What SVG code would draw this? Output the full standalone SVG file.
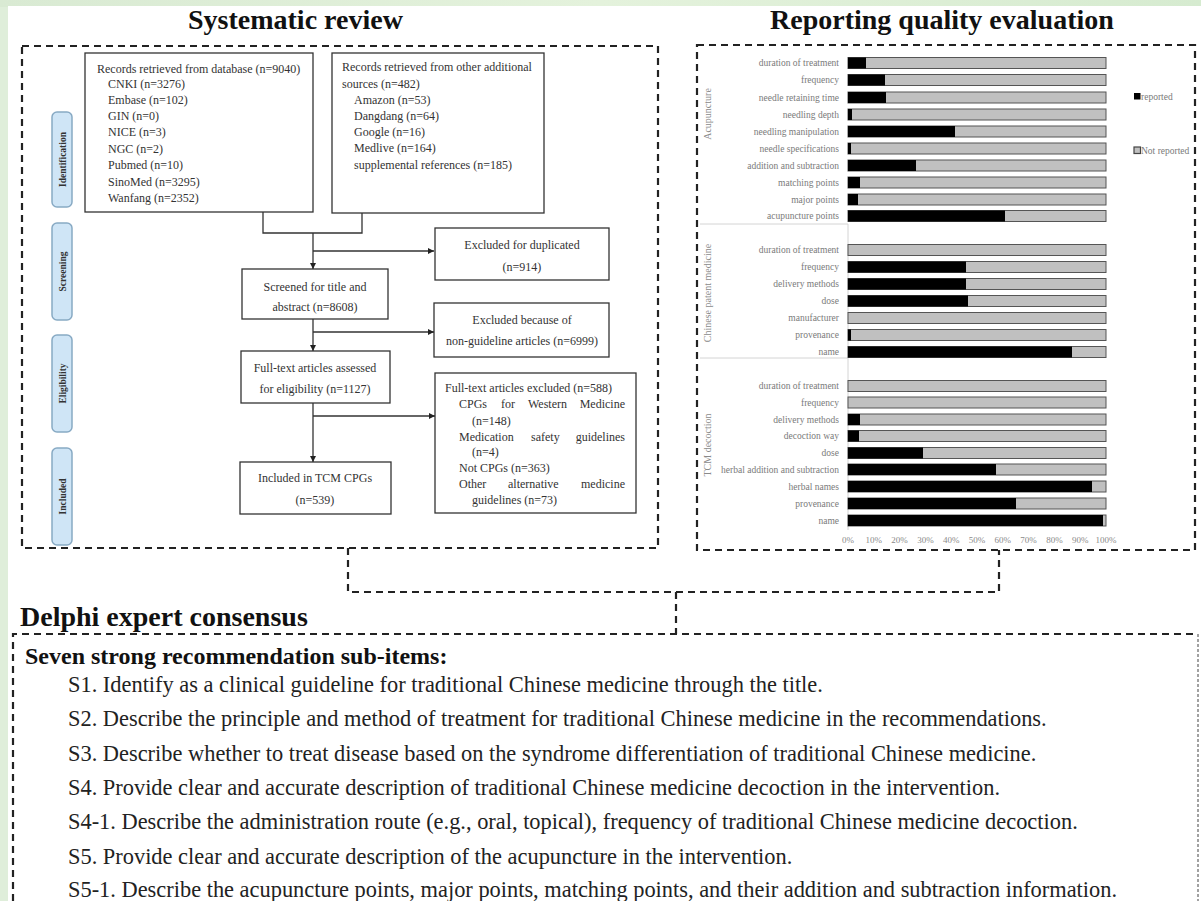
<svg xmlns="http://www.w3.org/2000/svg" width="1201" height="901" viewBox="0 0 1201 901">
<defs>
<linearGradient id="bgTop" x1="0" y1="0" x2="1" y2="0">
<stop offset="0" stop-color="#d9ead3"/><stop offset="0.5" stop-color="#e4f2dc"/><stop offset="1" stop-color="#d6ebd0"/>
</linearGradient>
<marker id="arr" viewBox="0 0 10 10" refX="10" refY="5" markerWidth="6" markerHeight="6" orient="auto" markerUnits="userSpaceOnUse">
<path d="M0,0 L10,5 L0,10 Z" fill="#222"/>
</marker>
<style>
.title{font-family:'Liberation Serif','Times New Roman',serif;font-weight:bold;font-size:28px;fill:#111}
.dash{fill:none;stroke:#222;stroke-width:2.2;stroke-dasharray:7 5}
.box{fill:#fff;stroke:#333;stroke-width:1.3}
.ft{font-family:'Liberation Serif','Times New Roman',serif;font-size:12px;fill:#333}
.pill{fill:#cfe5f6;stroke:#88aac4;stroke-width:1.5}
.pt{font-family:'Liberation Serif','Times New Roman',serif;font-weight:bold;font-size:9.5px;fill:#333}
.line{fill:none;stroke:#333;stroke-width:1.3}
.rl{font-family:'Liberation Serif','Times New Roman',serif;font-size:9.5px;fill:#7a7a7a;text-anchor:end}
.gl{font-family:'Liberation Serif','Times New Roman',serif;font-size:10px;fill:#8a8a8a;text-anchor:middle}
.ax{font-family:'Liberation Serif','Times New Roman',serif;font-size:9px;fill:#8a8a8a;text-anchor:middle}
.bg{fill:#c0c0c0;stroke:#555;stroke-width:1}
.bk{fill:#000}
.sep{stroke:#d4d4d4;stroke-width:1;fill:none}
.h2{font-family:'Liberation Serif','Times New Roman',serif;font-weight:bold;font-size:24px;fill:#111}
.body{font-family:'Liberation Serif','Times New Roman',serif;font-size:22.4px;fill:#222}
.end{text-anchor:end}
</style>
</defs>
<rect x="0" y="0" width="1201" height="901" fill="#dfeeda"/>
<rect x="0" y="0" width="1201" height="7" fill="url(#bgTop)"/>
<rect x="8" y="6" width="1193" height="895" fill="#fff"/>

<text class="title" x="188" y="29">Systematic review</text>
<text class="title" x="770" y="29">Reporting quality evaluation</text>

<g id="frames">
<rect class="dash" x="22" y="46" width="636" height="502"/>
<rect class="dash" x="697" y="45" width="498" height="505"/>
<path class="dash" d="M13,901 V634 H1198"/>
<path d="M1198,634 V901" fill="none" stroke="#444" stroke-width="1" stroke-dasharray="3 2"/>
</g>

<g id="stage-labels">
<g id="lbl-identification"><rect class="pill" x="52" y="112" width="20" height="95" rx="5"/><text class="pt" transform="translate(65.5,159.5) rotate(-90)" text-anchor="middle">Identification</text></g>
<g id="lbl-screening"><rect class="pill" x="52" y="223" width="20" height="97" rx="5"/><text class="pt" transform="translate(65.5,271.5) rotate(-90)" text-anchor="middle">Screening</text></g>
<g id="lbl-eligibility"><rect class="pill" x="52" y="335" width="20" height="97" rx="5"/><text class="pt" transform="translate(65.5,383.5) rotate(-90)" text-anchor="middle">Eligibility</text></g>
<g id="lbl-included"><rect class="pill" x="52" y="448" width="20" height="97" rx="5"/><text class="pt" transform="translate(65.5,496.5) rotate(-90)" text-anchor="middle">Included</text></g>
</g>

<g id="node-database">
<rect class="box" x="85" y="53" width="228" height="159"/>
<text class="ft" x="97" y="73">Records retrieved from database (n=9040)</text>
<text class="ft" x="108" y="88">CNKI (n=3276)</text>
<text class="ft" x="108" y="104">Embase (n=102)</text>
<text class="ft" x="108" y="120">GIN (n=0)</text>
<text class="ft" x="108" y="136">NICE (n=3)</text>
<text class="ft" x="108" y="153">NGC (n=2)</text>
<text class="ft" x="108" y="169">Pubmed (n=10)</text>
<text class="ft" x="108" y="186">SinoMed (n=3295)</text>
<text class="ft" x="108" y="202">Wanfang (n=2352)</text>
</g>

<g id="node-other">
<rect class="box" x="332" y="53" width="212" height="160"/>
<text class="ft" x="342" y="71">Records retrieved from other additional</text>
<text class="ft" x="342" y="88">sources (n=482)</text>
<text class="ft" x="354" y="104">Amazon (n=53)</text>
<text class="ft" x="354" y="120">Dangdang (n=64)</text>
<text class="ft" x="354" y="136">Google (n=16)</text>
<text class="ft" x="354" y="152">Medlive (n=164)</text>
<text class="ft" x="354" y="169">supplemental references (n=185)</text>
</g>

<g id="node-screened">
<rect class="box" x="242" y="269" width="146" height="50"/>
<text class="ft" x="315" y="291" text-anchor="middle">Screened for title and</text>
<text class="ft" x="315" y="311" text-anchor="middle">abstract (n=8608)</text>
</g>

<g id="node-dup">
<rect class="box" x="435" y="228" width="174" height="52"/>
<text class="ft" x="522" y="249" text-anchor="middle">Excluded for duplicated</text>
<text class="ft" x="522" y="271" text-anchor="middle">(n=914)</text>
</g>

<g id="node-nonguide">
<rect class="box" x="434" y="303" width="175" height="54"/>
<text class="ft" x="522" y="324" text-anchor="middle">Excluded because of</text>
<text class="ft" x="522" y="345" text-anchor="middle">non-guideline articles (n=6999)</text>
</g>

<g id="node-fulltext">
<rect class="box" x="241" y="351" width="149" height="52"/>
<text class="ft" x="315" y="372" text-anchor="middle">Full-text articles assessed</text>
<text class="ft" x="315" y="393" text-anchor="middle">for eligibility (n=1127)</text>
</g>

<g id="node-ftexcluded">
<rect class="box" x="435" y="373" width="201" height="140"/>
<text class="ft" x="445" y="392">Full-text articles excluded (n=588)</text>
<text class="ft" y="408"><tspan x="459">CPGs</tspan><tspan x="501">for</tspan><tspan x="528">Western</tspan><tspan x="625" text-anchor="end">Medicine</tspan></text>
<text class="ft" x="472" y="425">(n=148)</text>
<text class="ft" y="441"><tspan x="459">Medication</tspan><tspan x="531">safety</tspan><tspan x="625" text-anchor="end">guidelines</tspan></text>
<text class="ft" x="472" y="456">(n=4)</text>
<text class="ft" x="459" y="472">Not CPGs (n=363)</text>
<text class="ft" y="488"><tspan x="459">Other</tspan><tspan x="508">alternative</tspan><tspan x="625" text-anchor="end">medicine</tspan></text>
<text class="ft" x="472" y="504">guidelines (n=73)</text>
</g>

<g id="node-included">
<rect class="box" x="240" y="462" width="151" height="52"/>
<text class="ft" x="315" y="482" text-anchor="middle">Included in TCM CPGs</text>
<text class="ft" x="315" y="504" text-anchor="middle">(n=539)</text>
</g>

<g id="connectors">
<path class="line" d="M263,212 V233 H362 V213"/>
<path class="line" d="M313,233 V269" marker-end="url(#arr)"/>
<path class="line" d="M313,251 H434" marker-end="url(#arr)"/>
<path class="line" d="M313,319 V351" marker-end="url(#arr)"/>
<path class="line" d="M313,332 H434" marker-end="url(#arr)"/>
<path class="line" d="M313,403 V462" marker-end="url(#arr)"/>
<path class="line" d="M313,416 H435" marker-end="url(#arr)"/>
<path class="dash" d="M348,548 V592 H999 V550"/>
<path class="dash" d="M676,592 V634"/>
</g>

<g id="chart">
<path class="sep" d="M700,224 H848 M700,358 H848 M848,224 V530"/>
<text class="gl" transform="translate(711,114) rotate(-90)">Acupuncture</text>
<text class="gl" transform="translate(711,293) rotate(-90)">Chinese patent medicine</text>
<text class="gl" transform="translate(711,445) rotate(-90)">TCM decoction</text>

<g id="acu">
<text class="rl" x="839" y="66">duration of treatment</text><rect class="bg" x="848" y="57.5" width="258" height="11"/><rect class="bk" x="848" y="57.5" width="18" height="11"/>
<text class="rl" x="839" y="83">frequency</text><rect class="bg" x="848" y="74.5" width="258" height="11"/><rect class="bk" x="848" y="74.5" width="37" height="11"/>
<text class="rl" x="839" y="100.5">needle retaining time</text><rect class="bg" x="848" y="92" width="258" height="11"/><rect class="bk" x="848" y="92" width="38" height="11"/>
<text class="rl" x="839" y="117.5">needling depth</text><rect class="bg" x="848" y="109" width="258" height="11"/><rect class="bk" x="848" y="109" width="4" height="11"/>
<text class="rl" x="839" y="134.5">needling manipulation</text><rect class="bg" x="848" y="126" width="258" height="11"/><rect class="bk" x="848" y="126" width="107" height="11"/>
<text class="rl" x="839" y="151.5">needle specifications</text><rect class="bg" x="848" y="143" width="258" height="11"/><rect class="bk" x="848" y="143" width="3" height="11"/>
<text class="rl" x="839" y="168.5">addition and subtraction</text><rect class="bg" x="848" y="160" width="258" height="11"/><rect class="bk" x="848" y="160" width="68" height="11"/>
<text class="rl" x="839" y="185.5">matching points</text><rect class="bg" x="848" y="177" width="258" height="11"/><rect class="bk" x="848" y="177" width="12" height="11"/>
<text class="rl" x="839" y="202.5">major points</text><rect class="bg" x="848" y="194" width="258" height="11"/><rect class="bk" x="848" y="194" width="10" height="11"/>
<text class="rl" x="839" y="219">acupuncture points</text><rect class="bg" x="848" y="210.5" width="258" height="11"/><rect class="bk" x="848" y="210.5" width="157" height="11"/>
</g>

<g id="cpm">
<text class="rl" x="839" y="253">duration of treatment</text><rect class="bg" x="848" y="244.5" width="258" height="11"/>
<text class="rl" x="839" y="270">frequency</text><rect class="bg" x="848" y="261.5" width="258" height="11"/><rect class="bk" x="848" y="261.5" width="118" height="11"/>
<text class="rl" x="839" y="287">delivery methods</text><rect class="bg" x="848" y="278.5" width="258" height="11"/><rect class="bk" x="848" y="278.5" width="118" height="11"/>
<text class="rl" x="839" y="304">dose</text><rect class="bg" x="848" y="295.5" width="258" height="11"/><rect class="bk" x="848" y="295.5" width="120" height="11"/>
<text class="rl" x="839" y="321">manufacturer</text><rect class="bg" x="848" y="312.5" width="258" height="11"/>
<text class="rl" x="839" y="338">provenance</text><rect class="bg" x="848" y="329.5" width="258" height="11"/><rect class="bk" x="848" y="329.5" width="3" height="11"/>
<text class="rl" x="839" y="355">name</text><rect class="bg" x="848" y="346.5" width="258" height="11"/><rect class="bk" x="848" y="346.5" width="224" height="11"/>
</g>

<g id="tcm">
<text class="rl" x="839" y="389">duration of treatment</text><rect class="bg" x="848" y="380.5" width="258" height="11"/>
<text class="rl" x="839" y="405.5">frequency</text><rect class="bg" x="848" y="397" width="258" height="11"/>
<text class="rl" x="839" y="422.5">delivery methods</text><rect class="bg" x="848" y="414" width="258" height="11"/><rect class="bk" x="848" y="414" width="12" height="11"/>
<text class="rl" x="839" y="439">decoction way</text><rect class="bg" x="848" y="430.5" width="258" height="11"/><rect class="bk" x="848" y="430.5" width="11" height="11"/>
<text class="rl" x="839" y="456">dose</text><rect class="bg" x="848" y="447.5" width="258" height="11"/><rect class="bk" x="848" y="447.5" width="75" height="11"/>
<text class="rl" x="839" y="472.5">herbal addition and subtraction</text><rect class="bg" x="848" y="464" width="258" height="11"/><rect class="bk" x="848" y="464" width="148" height="11"/>
<text class="rl" x="839" y="489.5">herbal names</text><rect class="bg" x="848" y="481" width="258" height="11"/><rect class="bk" x="848" y="481" width="244" height="11"/>
<text class="rl" x="839" y="506.5">provenance</text><rect class="bg" x="848" y="498" width="258" height="11"/><rect class="bk" x="848" y="498" width="168" height="11"/>
<text class="rl" x="839" y="523.5">name</text><rect class="bg" x="848" y="515" width="258" height="11"/><rect class="bk" x="848" y="515" width="255" height="11"/>
</g>

<g id="axis">
<text class="ax" x="848" y="543">0%</text>
<text class="ax" x="873.8" y="543">10%</text>
<text class="ax" x="899.6" y="543">20%</text>
<text class="ax" x="925.4" y="543">30%</text>
<text class="ax" x="951.2" y="543">40%</text>
<text class="ax" x="977" y="543">50%</text>
<text class="ax" x="1002.8" y="543">60%</text>
<text class="ax" x="1028.6" y="543">70%</text>
<text class="ax" x="1054.4" y="543">80%</text>
<text class="ax" x="1080.2" y="543">90%</text>
<text class="ax" x="1106" y="543">100%</text>
</g>

<g id="legend">
<rect x="1134" y="93" width="6.5" height="6.5" fill="#000"/>
<text class="rl" x="1141" y="99.5" style="text-anchor:start">reported</text>
<rect x="1134" y="147" width="6.5" height="6.5" fill="#c0c0c0" stroke="#444" stroke-width="1.2"/>
<text class="rl" x="1141" y="153.5" style="text-anchor:start">Not reported</text>
</g>
</g>

<g id="delphi">
<text class="title" x="20" y="626">Delphi expert consensus</text>
<text class="h2" x="25" y="664">Seven strong recommendation sub-items:</text>
<text class="body" x="68" y="692">S1. Identify as a clinical guideline for traditional Chinese medicine through the title.</text>
<text class="body" x="68" y="726">S2. Describe the principle and method of treatment for traditional Chinese medicine in the recommendations.</text>
<text class="body" x="68" y="761">S3. Describe whether to treat disease based on the syndrome differentiation of traditional Chinese medicine.</text>
<text class="body" x="68" y="795">S4. Provide clear and accurate description of traditional Chinese medicine decoction in the intervention.</text>
<text class="body" x="68" y="829">S4-1. Describe the administration route (e.g., oral, topical), frequency of traditional Chinese medicine decoction.</text>
<text class="body" x="68" y="864">S5. Provide clear and accurate description of the acupuncture in the intervention.</text>
<text class="body" x="68" y="897">S5-1. Describe the acupuncture points, major points, matching points, and their addition and subtraction information.</text>
</g>
</svg>
